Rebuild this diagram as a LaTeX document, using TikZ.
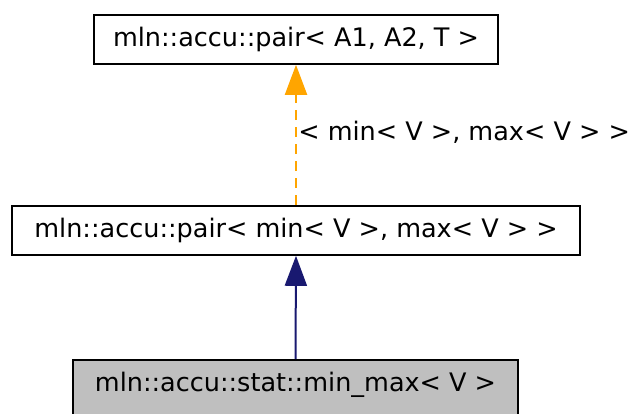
\documentclass[tikz,border=0pt]{standalone}
\usepackage{fontspec}
\setmainfont{DejaVu Sans}
\usetikzlibrary{arrows.meta,positioning}
\definecolor{edgeorange}{HTML}{FFA500}
\definecolor{edgenavy}{HTML}{191970}
\definecolor{boxgray}{HTML}{BFBFBF}

\begin{document}
\begin{tikzpicture}[x=1pt,y=1pt,
    classfont/.style={font=\fontsize{25.5}{28}\selectfont},
    classbox/.style={classfont,draw=black,line width=1.6pt,inner sep=0pt,minimum height=49pt},
    inherit/.style={-{Triangle[length=30pt,width=22pt]},line width=2pt}]
    \useasboundingbox (0,0) rectangle (632,-414);
    \clip (0,0) rectangle (632,-414);
    \node[classbox,minimum width=404pt] (pairT) at (296,-39.5) {mln::accu::pair< A1, A2, T >};
    \node[classbox,minimum width=568pt] (pairMM) at (296,-230.5) {mln::accu::pair< min< V >, max< V > >};
    \node[classbox,fill=boxgray,minimum width=445pt,minimum height=62pt,anchor=north] (minmax) at (295.5,-359) {};
    \node[classfont] (minmaxtext) at (295.5,-385) {mln::accu::stat::min\_max< V >};
    \draw[inherit,edgeorange,dash pattern=on 10pt off 7pt] (pairMM.north) -- node[classfont,text=black,right=-2pt,yshift=3pt] (tplarg) {< min< V >, max< V > >} (pairT.south);
    \draw[inherit,edgenavy] (minmax.north) -- (pairMM.south);
  \end{tikzpicture}
\end{document}
